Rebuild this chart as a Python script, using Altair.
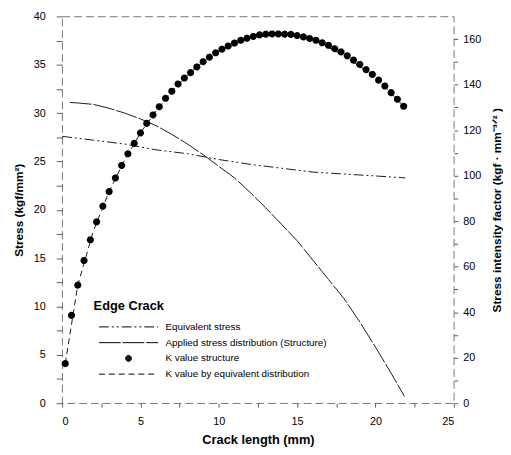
import altair as alt
import pandas as pd

# ---- data ----
names = [
    "Equivalent stress",
    "Applied stress distribution (Structure)",
    "K value structure",
    "K value by equivalent distribution",
]

# K value structure (right axis, kgf·mm^-3/2)
k_x = [0.2, 0.6, 1.0, 1.4, 1.8, 2.2, 2.6, 3.0, 3.4, 3.8, 4.2, 4.6, 5.0, 5.4,
       5.8, 6.2, 6.6, 7.0, 7.4, 7.8, 8.2, 8.6, 9.0, 9.4, 9.8, 10.2, 10.6, 11.0,
       11.4, 11.8, 12.2, 12.6, 13.0, 13.4, 13.8, 14.2, 14.6, 15.0, 15.4, 15.8,
       16.2, 16.6, 17.0, 17.4, 17.8, 18.2, 18.6, 19.0, 19.4, 19.8, 20.2, 20.6,
       21.0, 21.4, 21.8]
k_val = [17.4, 38.6, 51.9, 62.7, 71.8, 79.7, 86.6, 93.0, 99.0, 104.5, 109.6,
         114.2, 118.8, 123.0, 126.7, 130.3, 134.0, 137.1, 140.3, 142.9, 145.3,
         147.8, 150.1, 152.1, 154.0, 155.6, 157.0, 158.3, 159.5, 160.4, 161.2,
         161.9, 162.2, 162.3, 162.3, 162.2, 162.1, 161.6, 161.0, 160.3, 159.5,
         158.4, 157.3, 155.8, 154.4, 152.7, 150.8, 148.9, 146.6, 144.5, 142.0,
         139.4, 136.5, 133.6, 130.5]

# Equivalent stress (left axis, kgf/mm2)
eq_x = [0.0, 2.0, 4.0, 6.0, 8.0, 10.0, 12.0, 14.0, 16.0, 18.0, 20.0, 21.9]
eq_val = [27.6, 27.2, 26.8, 26.2, 25.8, 25.2, 24.7, 24.3, 23.9, 23.7, 23.5, 23.3]

# Applied stress distribution (Structure) (left axis)
ap_x = [0.5, 1.0, 2.0, 3.0, 4.0, 5.0, 6.0, 7.0, 8.0, 9.0, 10.0, 11.0, 12.0,
        13.0, 14.0, 15.0, 16.0, 17.0, 18.0, 19.0, 20.0, 21.0, 21.85]
ap_val = [31.1, 31.05, 30.9, 30.5, 30.0, 29.4, 28.7, 27.8, 26.8, 25.7, 24.5,
          23.3, 21.8, 20.2, 18.5, 16.8, 14.8, 12.8, 10.8, 8.4, 5.8, 3.1, 0.7]

# K value by equivalent distribution (right axis)
keq_x = [0.2, 1.0, 2.0, 3.0, 4.0, 5.0, 6.0, 7.0, 8.0, 9.0, 10.0, 12.0, 14.0,
         16.0, 18.0, 20.0, 21.8]
keq_val = [17.4, 51.9, 75.8, 93.0, 107.0, 118.8, 128.5, 137.1, 144.1, 150.1,
           154.8, 160.5, 162.3, 160.0, 152.7, 143.3, 130.5]

x_ticks = [0, 2.5, 5, 7.5, 10, 12.5, 15, 17.5, 20, 22.5, 25]
left_ticks = [0, 2.5, 5, 7.5, 10, 12.5, 15, 17.5, 20, 22.5, 25, 27.5, 30, 32.5,
              35, 37.5, 40]
right_ticks = [0, 10, 20, 30, 40, 50, 60, 70, 80, 90, 100, 110, 120, 130, 140,
               150, 160]

# ---- frames ----
stress_df = pd.DataFrame({
    "x": eq_x + ap_x,
    "v": eq_val + ap_val,
    "series": [names[0]] * len(eq_x) + [names[1]] * len(ap_x),
})
keq_df = pd.DataFrame({"x": keq_x, "v": keq_val, "series": [names[3]] * len(keq_x)})
kst_df = pd.DataFrame({"x": k_x, "v": k_val, "series": [names[2]] * len(k_x)})


def ring(r):
    return f"M0,-{r}A{r},{r} 0 1 1 0,{r}A{r},{r} 0 1 1 0,-{r}Z"


LINE = "M-6,0H6"
DOT = "".join(ring(r) for r in ["0.6", "0.5", "0.4", "0.3", "0.2", "0.1", "0.02"])

dash_scale = alt.Scale(domain=names, range=[[10, 3, 2, 3, 2, 3], [22, 2], [1, 0], [6, 4]])
shape_scale = alt.Scale(domain=names, range=[LINE, LINE, DOT, LINE])

legend = alt.Legend(
    title="Edge  Crack", orient="none", legendX=32, legendY=288,
    titleFontSize=13, titleFontWeight="bold", titleFont="Liberation Sans",
    titleColor="black", titlePadding=9, labelFontSize=10, labelFont="Liberation Sans",
    labelColor="black", labelOffset=32, symbolOffset=30, symbolSize=100,
    symbolStrokeWidth=1, symbolStrokeColor="black",
    rowPadding=5, padding=0, labelLimit=300,
)

x_enc = alt.X(
    "x:Q",
    scale=alt.Scale(domain=[0, 25], nice=False),
    axis=alt.Axis(
        values=x_ticks, labelExpr="datum.value % 5 == 0 ? datum.label : ''",
        title="Crack length (mm)", titleFontSize=13, titlePadding=7,
        tickSize=4, labelPadding=9,
    ),
)

left_axis = alt.Axis(
    values=left_ticks, labelExpr="datum.value % 5 == 0 ? datum.label : ''",
    title="Stress (kgf/mm²)", titleFontSize=12, titlePadding=8,
    tickSize=6, labelPadding=11, orient="left",
)
right_axis = alt.Axis(
    values=right_ticks, labelExpr="datum.value % 20 == 0 ? datum.label : ''",
    title="Stress intensity factor (kgf · mm⁻³ᐟ² )", titleFontSize=12,
    titleAngle=270, titleBaseline="top", titlePadding=11,
    tickSize=4, labelPadding=5, orient="right",
)

stress = alt.Chart(stress_df).mark_line(color="black", strokeWidth=0.9).encode(
    x=x_enc,
    y=alt.Y("v:Q", scale=alt.Scale(domain=[0, 40], nice=False), axis=left_axis),
    strokeDash=alt.StrokeDash("series:N", scale=dash_scale, legend=legend),
)

keq = alt.Chart(keq_df).mark_line(color="black", strokeWidth=0.9).encode(
    x=x_enc,
    y=alt.Y("v:Q", scale=alt.Scale(domain=[0, 170], nice=False), axis=right_axis),
    strokeDash=alt.StrokeDash("series:N", scale=dash_scale, legend=legend),
)

kpts = alt.Chart(kst_df).mark_point(
    filled=False, size=100, color="black", strokeWidth=1.2, opacity=1
).encode(
    x=x_enc,
    y=alt.Y("v:Q", scale=alt.Scale(domain=[0, 170], nice=False), axis=right_axis),
    shape=alt.Shape("series:N", scale=shape_scale, legend=legend),
    strokeDash=alt.StrokeDash("series:N", scale=dash_scale, legend=legend),
)

chart = alt.layer(stress, alt.layer(keq, kpts)).resolve_scale(y="independent").properties(
    width=398, height=393,
    autosize=alt.AutoSizeParams(type="none"),
    padding={"left": 55, "top": 5, "right": 50, "bottom": 42},
).configure_view(
    stroke="#555555", strokeDash=[8, 4], strokeWidth=0.8,
).configure_axis(
    grid=False, domain=False, labelFont="Liberation Sans", titleFont="Liberation Sans",
    labelFontSize=11, labelColor="black", titleColor="black", tickColor="#333333",
    tickWidth=0.8, titleFontWeight="bold",
)

chart.save("out.html", embed_options={"renderer": "svg", "actions": False})
